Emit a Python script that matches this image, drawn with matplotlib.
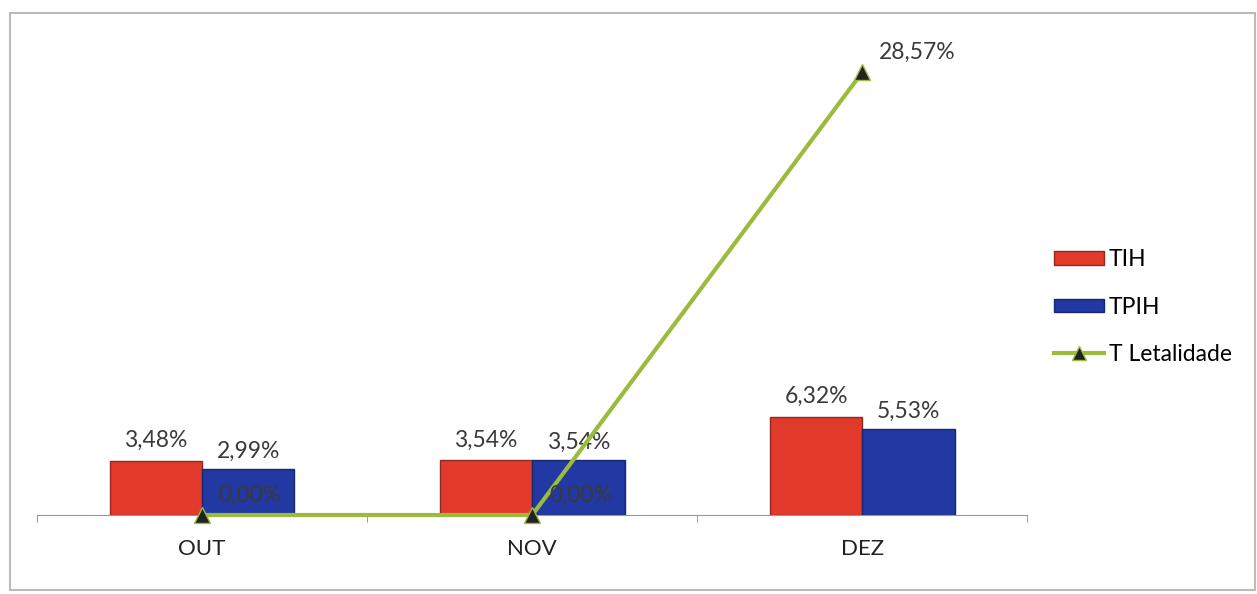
import matplotlib.pyplot as plt
import matplotlib.patches as mpatches
from matplotlib.lines import Line2D
import numpy as np

plt.rcParams['font.family'] = ['Lato', 'DejaVu Sans']

meses = ['OUT', 'NOV', 'DEZ']
tih = [3.48, 3.54, 6.32]
tpih = [2.99, 3.54, 5.53]
letalidade = [0.00, 0.00, 28.57]

def fmt(v):
    return f"{v:.2f}%".replace('.', ',')

fig = plt.figure(figsize=(12.57, 5.94), dpi=100)
ax = fig.add_axes([0.0294, 0.133, 0.788, 0.783])

x = np.arange(len(meses))
w = 0.28
red = '#E23B2B'
blue = '#2238A2'
green = '#9BBB3C'
fs = 16.5

ax.bar(x - w / 2, tih, w, color=red, edgecolor='#8E2A1F', linewidth=1, label='TIH', zorder=2)
ax.bar(x + w / 2, tpih, w, color=blue, edgecolor='#17286E', linewidth=1, label='TPIH', zorder=2)
ax.plot(x, letalidade, color=green, linewidth=3, marker='^', markersize=11,
        markerfacecolor='#222222', markeredgecolor=green, markeredgewidth=1,
        label='T Letalidade', zorder=4, clip_on=False)

for i in range(len(meses)):
    ax.annotate(fmt(tih[i]), (x[i] - w / 2, tih[i]), xytext=(0, 7), textcoords='offset points',
                ha='center', va='bottom', fontsize=fs, color='#3a3a3a')
    ax.annotate(fmt(tpih[i]), (x[i] + w / 2, tpih[i]), xytext=(0, 5), textcoords='offset points',
                ha='center', va='bottom', fontsize=fs, color='#3a3a3a')
    ax.annotate(fmt(letalidade[i]), (x[i], letalidade[i]), xytext=(12, 14), textcoords='offset points',
                ha='left', va='center', fontsize=fs, color='#3a3a3a', zorder=5)

ax.set_xlim(-0.5, 2.5)
ax.set_ylim(0, 30)
ax.set_xticks(x)
ax.set_xticklabels(meses, fontsize=fs - 0.5, color='#222222')
ax.set_xticks([-0.5, 0.5, 1.5, 2.5], minor=True)
ax.tick_params(axis='x', which='major', length=0, pad=17)
ax.tick_params(axis='x', which='minor', length=5, color='#888888', direction='out')
ax.set_yticks([])
for s in ['top', 'right', 'left']:
    ax.spines[s].set_visible(False)
ax.spines['bottom'].set_color('#999999')

handles = [mpatches.Patch(facecolor=red, edgecolor='#8E2A1F', label='TIH'),
           mpatches.Patch(facecolor=blue, edgecolor='#17286E', label='TPIH'),
           Line2D([], [], color=green, linewidth=3, marker='^', markersize=10,
                  markerfacecolor='#222222', markeredgecolor=green, label='T Letalidade')]
fig.legend(handles=handles, loc='center left', bbox_to_anchor=(0.822, 0.483), frameon=False,
           fontsize=fs, handlelength=2.2, handleheight=0.55, handletextpad=0.2, labelspacing=1.15)

frame = mpatches.Rectangle((10 / 1257, 4 / 594), 1245 / 1257, 577 / 594, transform=fig.transFigure,
                           fill=False, edgecolor='#BBBBBB', linewidth=1.5)
fig.patches.append(frame)

fig.savefig('out.png', dpi=100)
